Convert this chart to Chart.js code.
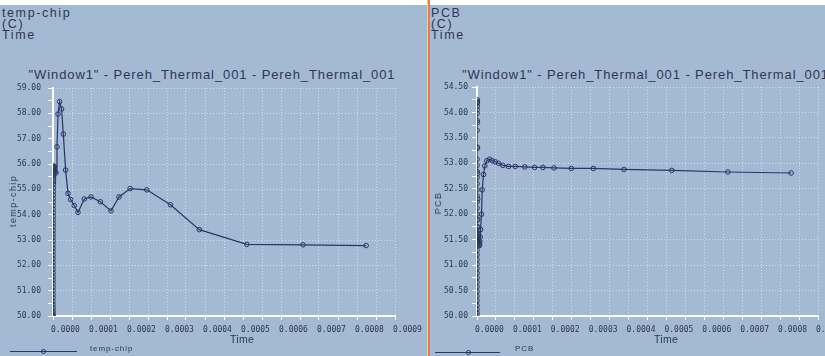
<!DOCTYPE html>
<html>
<head>
<meta charset="utf-8">
<script src="https://cdn.jsdelivr.net/npm/chart.js@4.4.1/dist/chart.umd.min.js"></script>
<style>
  html, body { margin: 0; padding: 0; overflow: hidden; }
  body { width: 825px; height: 356px; position: relative; background: #a3b9d4; font-family: "Liberation Sans", Arial, sans-serif; color: #2f3852; }
  .txt { position: absolute; white-space: nowrap; }
  .head { font-size: 12.5px; line-height: 11px; letter-spacing: 1.6px; }
  .title { font-size: 13px; line-height: 14px; letter-spacing: 0.9px; text-align: center; }
  .xt { font-size: 10.5px; line-height: 12px; letter-spacing: 0.3px; }
  .yt { font-size: 9px; line-height: 10px; letter-spacing: 1.4px; transform: translate(-50%, -50%) rotate(-90deg); }
  .lg { font-size: 8px; line-height: 10px; letter-spacing: 0.9px; }
  .lgline { position: absolute; height: 1px; background: #2b3566; }
  .lgdot { position: absolute; width: 3px; height: 3px; border: 1px solid #2b3566; border-radius: 50%; }
  canvas { position: absolute; top: 0; }
  #topstrip { position: absolute; left: 0; top: 0; width: 825px; height: 5px; background: #ffffff; }
  #sepY { position: absolute; left: 427px; top: 0; width: 1px; height: 356px; background: #e6dc7a; }
  #sepR { position: absolute; left: 428px; top: 0; width: 2px; height: 356px; background: #e2786a; }
</style>
</head>
<body>
<div id="topstrip"></div>

<div class="txt head" style="left:2px; top:8px;">temp-chip<br>(C)<br>Time</div>
<div class="txt head" style="left:431px; top:8px;">PCB<br>(C)<br>Time</div>

<div class="txt title" style="left:0px; top:67.5px; width:424px;">"Window1" - Pereh_Thermal_001 - Pereh_Thermal_001</div>
<div class="txt title" style="left:462px; top:67.5px; width:361px;">"Window1" - Pereh_Thermal_001 - Pereh_Thermal_001</div>

<canvas id="leftChart" width="440" height="356" style="left:0px;"></canvas>
<canvas id="rightChart" width="440" height="356" style="left:430px;"></canvas>

<div class="txt yt" style="left:13px; top:201px;">temp-chip</div>
<div class="txt yt" style="left:438px; top:203px;">PCB</div>

<div class="txt xt" style="left:230px; top:333px;">Time</div>
<div class="txt xt" style="left:654px; top:333px;">Time</div>

<div class="lgline" style="left:10px; top:351px; width:67px;"></div>
<div class="lgdot" style="left:40.5px; top:348.5px;"></div>
<div class="txt lg" style="left:90px; top:344px;">temp-chip</div>

<div class="lgline" style="left:435px; top:352px; width:65px;"></div>
<div class="lgdot" style="left:465.5px; top:349.5px;"></div>
<div class="txt lg" style="left:515px; top:344px;">PCB</div>

<div id="sepY"></div>
<div id="sepR"></div>

<script>
// temp-chip (C) over Time (s)
const tempTime = [
  0, 2e-9, 5e-9, 1e-8, 2e-8, 3e-8, 4e-8, 5e-8, 6e-8, 7e-8,
  8e-8, 9e-8, 1.0e-7, 1.1e-7, 1.2e-7, 1.3e-7, 1.4e-7, 1.5e-7, 1.6e-7, 1.7e-7,
  1.8e-7, 1.9e-7, 2.0e-7, 2.2e-7, 2.4e-7, 2.6e-7, 2.8e-7, 3.0e-7, 3.3e-7, 3.6e-7,
  4.0e-7, 4.4e-7, 4.8e-7, 5.3e-7, 5.8e-7, 6.4e-7, 7.0e-7, 7.7e-7, 8.5e-7, 9.5e-7,
  1.1e-6, 1.3e-6, 1.5e-6, 1.7e-6, 1.9e-6, 2.1e-6, 2.3e-6, 2.5e-6, 2.7e-6, 2.9e-6,
  3.1e-6, 3.4e-6, 7.9e-6, 1.05e-5, 1.32e-5, 1.74e-5, 2.26e-5, 2.71e-5, 3.32e-5, 3.95e-5,
  4.63e-5, 5.6e-5, 6.58e-5, 8.24e-5, 1.0e-4, 1.245e-4, 1.526e-4, 1.737e-4, 2.03e-4, 2.47e-4,
  3.09e-4, 3.85e-4, 5.1e-4, 6.58e-4, 8.24e-4
];
const tempValue = [
  50.00, 50.04, 50.10, 50.20, 50.32, 50.45, 50.58, 50.72, 50.86, 51.00,
  51.14, 51.28, 51.42, 51.56, 51.70, 51.84, 51.98, 52.12, 52.26, 52.40,
  52.54, 52.68, 52.82, 52.96, 53.10, 53.24, 53.38, 53.52, 53.66, 53.80,
  53.94, 54.08, 54.22, 54.36, 54.50, 54.64, 54.78, 54.92, 55.06, 55.20,
  55.30, 55.38, 55.46, 55.54, 55.60, 55.66, 55.72, 55.77, 55.82, 55.86,
  55.89, 55.91, 55.65, 56.68, 57.97, 58.46, 58.17, 57.18, 55.76, 54.84,
  54.60, 54.36, 54.09, 54.62, 54.70, 54.51, 54.15, 54.70, 55.03, 54.98,
  54.39, 53.41, 52.83, 52.81, 52.78
];

// PCB (C) over Time (s)
const pcbTime = [
  0, 2e-9, 5e-9, 1e-8, 1.5e-8, 2e-8, 2.5e-8, 3e-8, 3.5e-8, 4e-8,
  4.5e-8, 5e-8, 5.5e-8, 6e-8, 6.5e-8, 7e-8, 8e-8, 9e-8, 1.0e-7, 1.1e-7,
  1.2e-7, 1.3e-7, 1.4e-7, 1.5e-7, 1.6e-7, 1.7e-7, 1.8e-7, 1.9e-7, 2.0e-7, 2.1e-7,
  2.3e-7, 2.6e-7, 3.0e-7, 3.5e-7, 4.0e-7, 4.6e-7, 5.3e-7, 6.0e-7, 7.0e-7, 8.0e-7,
  1.0e-6, 1.2e-6, 1.4e-6, 1.6e-6, 1.8e-6, 2.0e-6, 2.3e-6, 2.6e-6, 3.0e-6, 3.4e-6,
  3.8e-6, 4.3e-6, 4.8e-6, 5.4e-6, 6.0e-6, 6.8e-6, 7.6e-6, 8.5e-6, 9.5e-6, 1.19e-5,
  1.38e-5, 1.72e-5, 2.06e-5, 2.59e-5, 3.31e-5, 4.02e-5, 4.81e-5, 5.69e-5, 6.83e-5, 8.33e-5,
  1.01e-4, 1.26e-4, 1.52e-4, 1.74e-4, 2.03e-4, 2.49e-4, 3.07e-4, 3.88e-4, 5.14e-4, 6.62e-4,
  8.29e-4
];
const pcbValue = [
  50.00, 50.06, 50.13, 50.21, 50.30, 50.39, 50.48, 50.57, 50.66, 50.75,
  50.84, 50.93, 51.02, 51.11, 51.20, 51.29, 51.40, 51.52, 51.64, 51.76,
  51.88, 52.00, 52.12, 52.24, 52.36, 52.48, 52.60, 52.72, 52.84, 52.96,
  53.08, 53.32, 53.65, 53.84, 53.98, 54.05, 54.12, 54.18, 54.22, 54.25,
  54.20, 53.80, 53.30, 52.80, 52.30, 51.90, 51.75, 51.68, 51.62, 51.57,
  51.52, 51.48, 51.44, 51.40, 51.38, 51.40, 51.46, 51.55, 51.70, 52.00,
  52.48, 52.78, 52.95, 53.05, 53.08, 53.05, 53.03, 53.00, 52.96, 52.94,
  52.94, 52.93, 52.92, 52.92, 52.91, 52.90, 52.90, 52.88, 52.86, 52.83,
  52.81
];

const xMax = 0.0009;
const xStep = 0.00005;

const lineColor = '#2b3566';
const gridColor = 'rgba(255, 255, 255, 0.5)';
const tickText = '#2f3852';
const tickFont = { family: '"DejaVu Sans Mono", monospace', size: 8 };

function makeChart(id, xs, ys, o) {
    const pts = xs.map((x, i) => ({ x: x, y: ys[i] }));
    return new Chart(document.getElementById(id), {
        type: 'line',
        data: {
            datasets: [{
                data: pts,
                borderColor: lineColor,
                borderWidth: 1.2,
                pointRadius: 2.3,
                pointBorderWidth: 1,
                pointBorderColor: lineColor,
                pointBackgroundColor: 'rgba(0,0,0,0)',
                tension: 0,
                fill: false
            }]
        },
        options: {
            responsive: false,
            animation: false,
            devicePixelRatio: 1,
            layout: { padding: o.padding },
            plugins: {
                legend: { display: false },
                tooltip: { enabled: false }
            },
            scales: {
                x: {
                    type: 'linear',
                    min: 0,
                    max: xMax,
                    afterFit: s => { s.height = 40; },
                    ticks: {
                        stepSize: xStep,
                        autoSkip: false,
                        maxRotation: 0,
                        align: 'start',
                        labelOffset: -2,
                        padding: 5,
                        color: tickText,
                        font: tickFont,
                        callback: v => (Math.round(v / xStep) % 2 === 0 ? v.toFixed(4) : '')
                    },
                    grid: { color: gridColor, tickColor: '#ffffff', tickLength: 4 },
                    border: { color: '#ffffff', width: 2, dash: [1, 2] }
                },
                y: {
                    min: o.yMin,
                    max: o.yMax,
                    afterFit: s => { s.width = o.yWidth; },
                    ticks: {
                        stepSize: o.yStep,
                        autoSkip: false,
                        padding: o.yPad,
                        color: tickText,
                        font: tickFont,
                        callback: v => (Math.abs(v / o.yLabel - Math.round(v / o.yLabel)) < 1e-6 ? v.toFixed(2) : '')
                    },
                    grid: {
                        color: c => (c.tick && Math.abs(c.tick.value / o.yLabel - Math.round(c.tick.value / o.yLabel)) < 1e-6 ? gridColor : 'rgba(0,0,0,0)'),
                        tickColor: '#ffffff',
                        tickLength: 5
                    },
                    border: { color: '#ffffff', width: 2, dash: [1, 2] }
                }
            }
        }
    });
}

makeChart('leftChart', tempTime, tempValue, {
    padding: { left: 0, top: 88, right: 45, bottom: 0 },
    yMin: 50, yMax: 59, yStep: 0.5, yLabel: 1, yWidth: 53, yPad: 7
});

makeChart('rightChart', pcbTime, pcbValue, {
    padding: { left: 0, top: 87, right: 52, bottom: 0 },
    yMin: 50, yMax: 54.5, yStep: 0.25, yLabel: 0.5, yWidth: 47, yPad: 4
});
</script>
</body>
</html>
